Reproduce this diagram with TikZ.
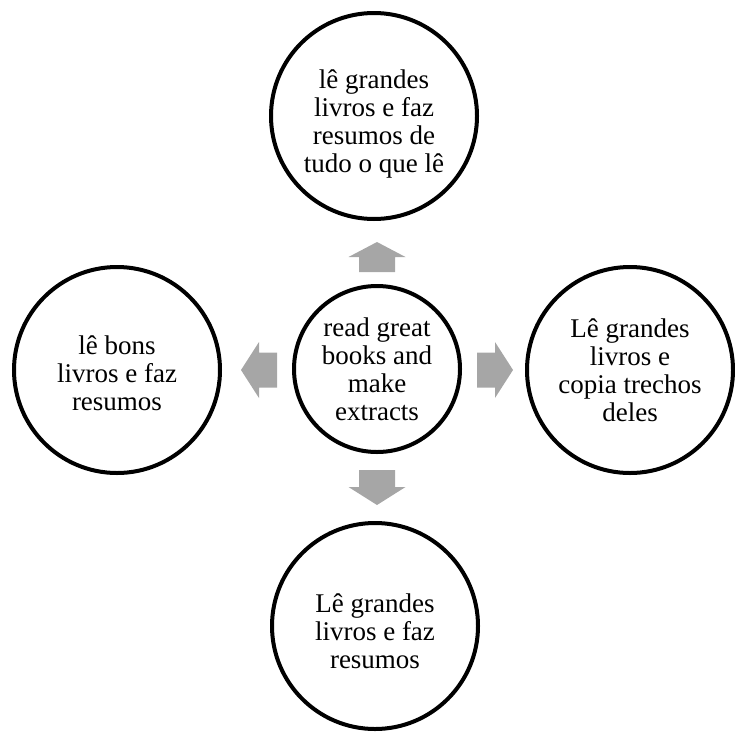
\documentclass[tikz,border=0pt]{standalone}
\usepackage{fontspec}
\setmainfont{Liberation Serif}
\definecolor{arrowgray}{RGB}{166,166,166}
\tikzset{
  bubble/.style={circle, draw=black, line width=4pt, fill=white, align=center, inner sep=0pt,
    font=\fontsize{27}{28}\selectfont},
  outerbubble/.style={bubble, minimum size=206pt},
  hubbubble/.style={bubble, minimum size=166pt},
  bubbletext/.style={align=center, inner sep=0pt, font=\fontsize{27}{28}\selectfont},
  blockarrow/.style={fill=arrowgray}
}
\begin{document}
\begin{tikzpicture}[x=1pt,y=-1pt]
\useasboundingbox (0,0) rectangle (735,731);
\node[hubbubble] (hub) at (377,369) {read great\\books and\\make\\extracts};
\node[outerbubble, label={[bubbletext, yshift=-8pt]center:lê grandes\\livros e faz\\resumos de\\tudo o que lê}] (top) at (374,116) {};
\node[outerbubble, label={[bubbletext, yshift=-3pt]center:lê bons\\livros e faz\\resumos}] (left) at (117,370) {};
\node[outerbubble, label={[bubbletext]center:Lê grandes\\livros e\\copia trechos\\deles}] (right) at (630,370) {};
\node[outerbubble, label={[bubbletext, yshift=-5pt]center:Lê grandes\\livros e faz\\resumos}] (bottom) at (375,626) {};
% block arrows
\fill[blockarrow] (359,272) -- (359,257) -- (348.5,257) -- (377,242) -- (405.5,257) -- (395,257) -- (395,272) -- cycle;
\fill[blockarrow] (359,470) -- (359,487) -- (348.5,487) -- (377,505) -- (405.5,487) -- (395,487) -- (395,470) -- cycle;
\fill[blockarrow] (277,352.5) -- (259,352.5) -- (259,342) -- (241,370) -- (259,398) -- (259,387.5) -- (277,387.5) -- cycle;
\fill[blockarrow] (477,352.5) -- (495,352.5) -- (495,342) -- (513,370) -- (495,398) -- (495,387.5) -- (477,387.5) -- cycle;
\end{tikzpicture}
\end{document}
